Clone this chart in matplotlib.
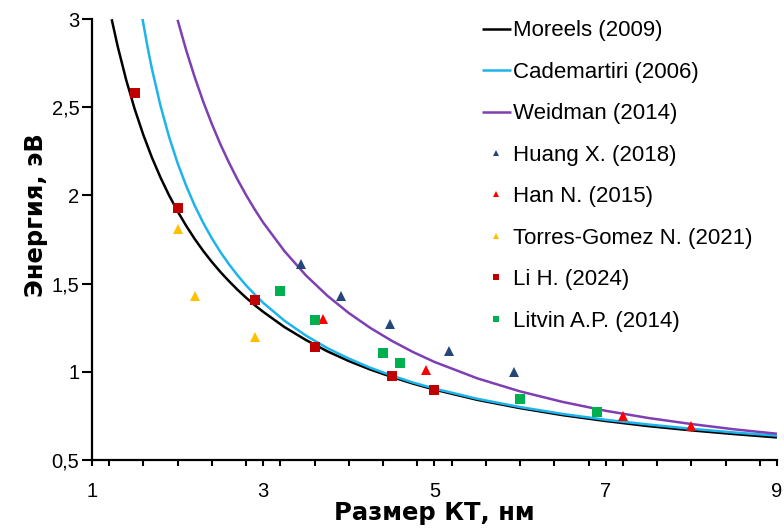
import matplotlib
matplotlib.use("Agg")
import matplotlib.pyplot as plt
from matplotlib.ticker import FixedLocator, MultipleLocator, FuncFormatter

# Sizing curves: band-gap energy (eV) vs. quantum dot diameter (nm)
moreels_d = [1.23, 1.3, 1.4, 1.5, 1.6, 1.7, 1.8, 1.9, 2.0, 2.1, 2.2, 2.3, 2.4, 2.5,
             2.6, 2.7, 2.8, 2.9, 3.0, 3.25, 3.5, 3.75, 4.0, 4.25, 4.5, 4.75, 5.0,
             5.5, 6.0, 6.5, 7.0, 7.5, 8.0, 8.5, 9.0]
moreels_e = [2.999, 2.846, 2.654, 2.488, 2.343, 2.215, 2.102, 2.001, 1.910, 1.828,
             1.753, 1.685, 1.623, 1.566, 1.514, 1.465, 1.420, 1.378, 1.340, 1.253,
             1.180, 1.116, 1.061, 1.013, 0.971, 0.933, 0.899, 0.841, 0.794, 0.754,
             0.721, 0.692, 0.668, 0.647, 0.628]

cademartiri_d = [1.59, 1.65, 1.7, 1.8, 1.9, 2.0, 2.1, 2.2, 2.3, 2.4, 2.5, 2.6, 2.7,
                 2.8, 2.9, 3.0, 3.25, 3.5, 3.75, 4.0, 4.25, 4.5, 4.75, 5.0, 5.5,
                 6.0, 6.5, 7.0, 7.5, 8.0, 8.5, 9.0]
cademartiri_e = [3.001, 2.839, 2.718, 2.509, 2.333, 2.183, 2.055, 1.942, 1.844, 1.757,
                 1.679, 1.610, 1.547, 1.490, 1.439, 1.391, 1.289, 1.205, 1.134, 1.075,
                 1.023, 0.979, 0.939, 0.905, 0.847, 0.800, 0.761, 0.728, 0.701, 0.677,
                 0.656, 0.638]

weidman_d = [2.0, 2.1, 2.2, 2.3, 2.4, 2.5, 2.6, 2.7, 2.8, 2.9, 3.0, 3.25, 3.5, 3.75,
             4.0, 4.25, 4.5, 4.75, 5.0, 5.5, 6.0, 6.5, 7.0, 7.5, 8.0, 8.5, 9.0]
weidman_e = [2.995, 2.824, 2.670, 2.531, 2.405, 2.290, 2.186, 2.090, 2.002, 1.921,
             1.846, 1.683, 1.546, 1.431, 1.333, 1.249, 1.176, 1.112, 1.056, 0.963,
             0.889, 0.829, 0.779, 0.738, 0.704, 0.674, 0.649]

# Experimental points
huang_d = [3.44, 3.91, 4.48, 5.17, 5.93]
huang_e = [1.61, 1.43, 1.27, 1.12, 1.00]

han_d = [3.7, 4.9, 7.2, 8.0]
han_e = [1.30, 1.01, 0.75, 0.69]

torres_d = [2.0, 2.2, 2.9]
torres_e = [1.81, 1.43, 1.20]

li_d = [1.5, 2.0, 2.9, 3.6, 4.5, 5.0]
li_e = [2.58, 1.93, 1.405, 1.14, 0.978, 0.895]

litvin_d = [3.2, 3.6, 4.4, 4.6, 6.0, 6.9]
litvin_e = [1.456, 1.295, 1.105, 1.048, 0.848, 0.77]

x_major = [1, 3, 5, 7, 9]

plt.rcParams['font.family'] = ['Liberation Sans', 'DejaVu Sans']

fig = plt.figure(figsize=(7.84, 5.31), dpi=100)
ax = fig.add_axes([0.1173, 0.1337, 0.8737, 0.8305])

lw = 1.8
line_kw = dict(lw=lw, zorder=2, solid_joinstyle='round', solid_capstyle='butt')
ax.plot(moreels_d, moreels_e, color='black', label='Moreels (2009)', **line_kw)
ax.plot(cademartiri_d, cademartiri_e, color='#1DB4EC', label='Cademartiri (2006)', **line_kw)
ax.plot(weidman_d, weidman_e, color='#7E3FB3', label='Weidman (2014)', **line_kw)

tri = 6.8
sq = 7.2
pt_kw = dict(ls='none', zorder=3, markeredgewidth=0)
ax.plot(huang_d, huang_e, marker='^', ms=tri, color='#24477A', label='Huang X. (2018)', **pt_kw)
ax.plot(han_d, han_e, marker='^', ms=tri, color='#FF0000', label='Han N. (2015)', **pt_kw)
ax.plot(torres_d, torres_e, marker='^', ms=tri, color='#FFC000', label='Torres-Gomez N. (2021)', **pt_kw)
ax.plot(li_d, li_e, marker='s', ms=sq, color='#C00000', label='Li H. (2024)', **pt_kw)
ax.plot(litvin_d, litvin_e, marker='s', ms=sq, color='#00B050', label='Litvin A.P. (2014)', **pt_kw)

ax.set_xlim(1, 9)
ax.set_ylim(0.5, 3)
for s in ['top', 'right']:
    ax.spines[s].set_visible(False)
for s in ['left', 'bottom']:
    ax.spines[s].set_linewidth(1.6)
    ax.spines[s].set_color('black')

ax.xaxis.set_major_locator(FixedLocator(x_major))
ax.xaxis.set_minor_locator(MultipleLocator(0.4))
ax.yaxis.set_major_locator(MultipleLocator(0.5))
fmt = FuncFormatter(lambda v, p: ('%g' % v).replace('.', ','))
ax.yaxis.set_major_formatter(fmt)
ax.xaxis.set_major_formatter(fmt)
ax.tick_params(axis='x', which='both', direction='out', length=4, width=1.5,
               labelsize=14.5, pad=12)
ax.tick_params(axis='y', which='major', direction='out', length=7, width=1.5,
               labelsize=14.5, pad=2)

label_font = dict(family=['DejaVu Sans'], weight='bold', size=17.5)
ax.set_xlabel('Размер КТ, нм', fontdict=label_font)
ax.set_ylabel('Энергия, эВ', fontdict=label_font)
ax.xaxis.set_label_coords(0.5, -0.093)
ax.yaxis.set_label_coords(-0.064, 0.556)

leg = ax.legend(loc='upper left', bbox_to_anchor=(0.557, 1.017), frameon=False,
                fontsize=16, handlelength=1.27, handletextpad=0.1, labelspacing=0.92,
                markerscale=0.62, borderaxespad=0)

fig.savefig('out.png', dpi=100)
